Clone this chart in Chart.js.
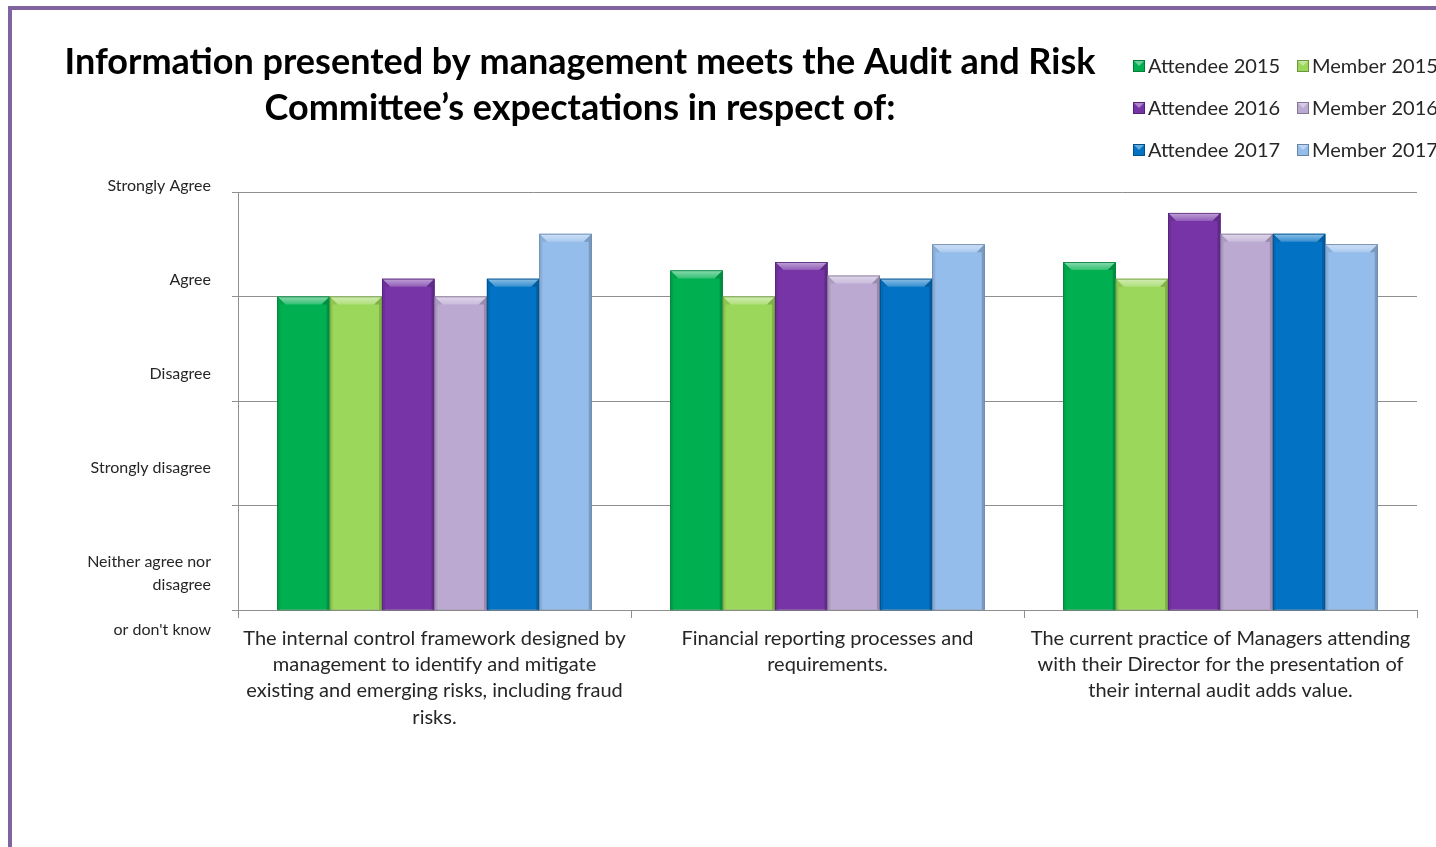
<!DOCTYPE html>
<html><head><meta charset="utf-8">
<script src="https://cdn.jsdelivr.net/npm/chart.js@4.4.1/dist/chart.umd.min.js"></script>
<style>
html,body{margin:0;padding:0;background:#fff;width:1436px;height:847px;overflow:hidden}
#frame{position:absolute;left:8px;top:6px;width:1500px;height:900px;border-left:4px solid #8064A2;border-top:4px solid #8064A2;}
#c{position:absolute;left:0;top:0}
</style></head><body>
<div id="frame"></div>
<canvas id="c" width="1436" height="847"></canvas>
<script>
// ---- data ----
const titleLines = ["Information presented by management meets the Audit and Risk", "Committee\u2019s expectations in respect of:"];
const categories = [
  ["The internal control framework designed by", "management to identify and mitigate", "existing and emerging risks, including fraud", "risks."],
  ["Financial reporting processes and", "requirements."],
  ["The current practice of Managers attending", "with their Director for the presentation of", "their internal audit adds value."]
];
const seriesNames = ["Attendee 2015", "Member 2015", "Attendee 2016", "Member 2016", "Attendee 2017", "Member 2017"];
const seriesColors = ["#00B050", "#9BD75A", "#7634A6", "#BBA9D2", "#0272C4", "#95BDEB"];
const attendee2015 = [3.0, 3.25, 3.33];
const member2015   = [3.0, 3.0, 3.17];
const attendee2016 = [3.17, 3.33, 3.8];
const member2016   = [3.0, 3.2, 3.6];
const attendee2017 = [3.17, 3.17, 3.6];
const member2017   = [3.6, 3.5, 3.5];
const seriesValues = [attendee2015, member2015, attendee2016, member2016, attendee2017, member2017];
// y tick labels, top to bottom (Strongly Agree = 4 ... 0)
const yTickLabels = [["Strongly Agree"], ["Agree"], ["Disagree"], ["Strongly disagree"], ["Neither agree nor", "disagree", "", "or don't know"]];

function mix(hex, target, t) {
  const a = parseInt(hex.slice(1), 16), b = parseInt(target.slice(1), 16);
  const ch = (v, s) => (v >> s) & 255;
  const m = s => Math.round(ch(a, s) * (1 - t) + ch(b, s) * t);
  return "rgb(" + m(16) + "," + m(8) + "," + m(0) + ")";
}

const bevelPlugin = {
  id: "bevel",
  afterDatasetsDraw(chart) {
    const ctx = chart.ctx;
    chart.data.datasets.forEach((ds, i) => {
      const meta = chart.getDatasetMeta(i);
      const col = seriesColors[i];
      meta.data.forEach(bar => {
        const p = bar.getProps(["x", "y", "base", "width"], true);
        const l = p.x - p.width / 2, r = p.x + p.width / 2, t = p.y, b = p.base;
        const s = 8;
        ctx.save();
        const g = ctx.createLinearGradient(0, t, 0, t + s);
        g.addColorStop(0, mix(col, "#ffffff", 0.55));
        g.addColorStop(1, mix(col, "#ffffff", 0.2));
        ctx.fillStyle = g;
        ctx.beginPath(); ctx.moveTo(l, t); ctx.lineTo(r, t); ctx.lineTo(r - s, t + s); ctx.lineTo(l + s, t + s); ctx.closePath(); ctx.fill();
        ctx.fillStyle = mix(col, "#000000", 0.18);
        ctx.beginPath(); ctx.moveTo(r, t); ctx.lineTo(r, b); ctx.lineTo(r - 3, b); ctx.lineTo(r - 3, t + s); ctx.lineTo(r - s, t + s); ctx.closePath(); ctx.fill();
        ctx.fillStyle = mix(col, "#000000", 0.08);
        ctx.beginPath(); ctx.moveTo(l, t); ctx.lineTo(l + s, t + s); ctx.lineTo(l + 3, t + s); ctx.lineTo(l + 3, b); ctx.lineTo(l, b); ctx.closePath(); ctx.fill();
        ctx.strokeStyle = mix(col, "#000000", 0.3);
        ctx.lineWidth = 0.8;
        ctx.strokeRect(l + 0.4, t + 0.4, p.width - 0.8, b - t);
        ctx.restore();
      });
    });
  }
};

const textPlugin = {
  id: "texts",
  afterDraw(chart) {
    const ctx = chart.ctx, area = chart.chartArea, ys = chart.scales.y;
    ctx.save();
    ctx.fillStyle = "#000";
    ctx.font = "bold 36px Lato";
    ctx.textAlign = "center"; ctx.textBaseline = "middle";
    titleLines.forEach((ln, k) => ctx.fillText(ln, 580, 62 + k * 46));
    ctx.font = "16px Lato"; ctx.fillStyle = "#262626"; ctx.textAlign = "right";
    const step = ys.getPixelForValue(0) - ys.getPixelForValue(1);
    yTickLabels.forEach((lines, i) => {
      const y0 = area.top - 6 + i * 0.9 * step;
      lines.forEach((ln, k) => ctx.fillText(ln, 211, y0 + k * 22.7));
    });
    ctx.font = "20px Lato"; ctx.textAlign = "left";
    chart.data.datasets.forEach((ds, i) => {
      const col = i % 2, row = Math.floor(i / 2);
      const x = col === 0 ? 1133 : 1297, y = 66 + row * 42;
      const c = seriesColors[i];
      ctx.fillStyle = c; ctx.fillRect(x, y - 6, 12, 12);
      ctx.fillStyle = mix(c, "#ffffff", 0.4);
      ctx.beginPath(); ctx.moveTo(x, y - 6); ctx.lineTo(x + 12, y - 6); ctx.lineTo(x + 6, y); ctx.closePath(); ctx.fill();
      ctx.strokeStyle = mix(c, "#000000", 0.3); ctx.lineWidth = 1; ctx.strokeRect(x + 0.5, y - 5.5, 11, 11);
      ctx.fillStyle = "#262626";
      ctx.fillText(ds.label, x + 15, y + 1);
    });
    ctx.restore();
  }
};

new Chart(document.getElementById("c"), {
  type: "bar",
  data: {
    labels: categories,
    datasets: seriesNames.map((n, i) => ({
      label: n,
      data: seriesValues[i],
      backgroundColor: seriesColors[i],
      borderWidth: 0,
      categoryPercentage: 0.8,
      barPercentage: 1.0
    }))
  },
  options: {
    responsive: false,
    devicePixelRatio: 1,
    animation: false,
    layout: { padding: { left: 0, top: 192, right: 19, bottom: 0 } },
    plugins: { legend: { display: false }, title: { display: false }, tooltip: { enabled: false } },
    scales: {
      x: {
        grid: { drawOnChartArea: false, drawTicks: true, tickLength: 8, color: "#8f8f8f", offset: true },
        border: { color: "#8f8f8f" },
        ticks: { font: { family: "Lato", size: 20, lineHeight: 1.32 }, color: "#262626", padding: 7, maxRotation: 0, autoSkip: false },
        afterFit: s => { s.height = 847 - 610; }
      },
      y: {
        min: 0, max: 4,
        ticks: { stepSize: 1, display: false },
        grid: { color: "#8f8f8f", tickLength: 6, drawTicks: true },
        border: { color: "#8f8f8f" },
        afterFit: s => { s.width = 238; }
      }
    }
  },
  plugins: [bevelPlugin, textPlugin]
});
</script>
</body></html>
